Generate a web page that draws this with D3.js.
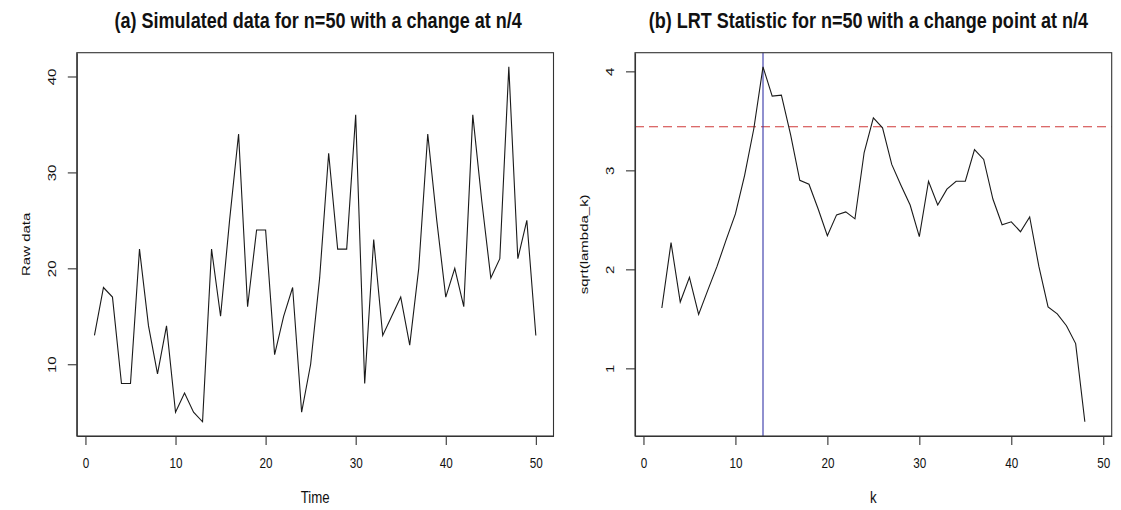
<!DOCTYPE html>
<html>
<head>
<meta charset="utf-8">
<script src="https://cdn.jsdelivr.net/npm/d3@7"></script>
<style>
  body { margin: 0; background: #fff; }
  svg { display: block; font-family: "Liberation Sans", Arial, sans-serif; }
</style>
</head>
<body>
<svg id="chart" width="1121" height="510"></svg>
<script>
'use strict';

// values
const rawData = [13, 18, 17, 8, 8, 22, 14, 9, 14, 5, 7, 5, 4, 22, 15, 25, 34, 16, 24, 24,
                 11, 15, 18, 5, 10, 19, 32, 22, 22, 36, 8, 23, 13, 15, 17, 12, 20, 34, 25, 17,
                 20, 16, 36, 27, 19, 21, 41, 21, 25, 13];
const kStart = 2;
const lrtStat = [1.61, 2.27, 1.67, 1.92, 1.545, 1.79, 2.03, 2.30, 2.56, 2.95, 3.42, 4.045,
                 3.75, 3.76, 3.36, 2.90, 2.86, 2.61, 2.34, 2.55, 2.58, 2.51, 3.18, 3.53, 3.43,
                 3.06, 2.85, 2.65, 2.33, 2.89, 2.65, 2.81, 2.89, 2.89, 3.21, 3.11, 2.71, 2.45,
                 2.48, 2.38, 2.53, 2.03, 1.62, 1.55, 1.43, 1.25, 0.46];
const kLimits = [1, 49];
const threshold = 3.44;
const changePoint = 13;

const xTicks = [0, 10, 20, 30, 40, 50];
const rawTicks = [10, 20, 30, 40];
const lrtTicks = [1, 2, 3, 4];

const titles = ['(a) Simulated data for n=50 with a change at n/4',
                '(b) LRT Statistic for n=50 with a change point at n/4'];
const xLabels = ['Time', 'k'];
const yLabels = ['Raw data', 'sqrt(lambda_k)'];

const squash = 0.78;      // the picture is narrower than its fonts
const titleSquash = 0.82;
const axisColour = '#333';

// R style range: data extent plus 4% each side
function rPad(ext) {
    const d = (ext[1] - ext[0]) * 0.04;
    return [ext[0] - d, ext[1] + d];
}

const svg = d3.select('#chart');

function panel(opts) {
    const { left, right, top, bottom } = opts.box;
    const x = d3.scaleLinear().domain(rPad(opts.xExtent)).range([left, right]);
    const y = d3.scaleLinear().domain(rPad(d3.extent(opts.values))).range([bottom, top]);
    const g = svg.append('g');

    // extras behind the line
    if (opts.hline != null) {
        g.append('line')
            .attr('x1', left).attr('x2', right)
            .attr('y1', y(opts.hline)).attr('y2', y(opts.hline))
            .attr('stroke', '#d03a3a')
            .attr('stroke-width', 1.1)
            .attr('stroke-dasharray', '9,5');
    }
    if (opts.vline != null) {
        g.append('line')
            .attr('x1', x(opts.vline)).attr('x2', x(opts.vline))
            .attr('y1', top).attr('y2', bottom)
            .attr('stroke', '#3636a8')
            .attr('stroke-width', 1.1);
    }

    const line = d3.line()
        .x((d, i) => x(opts.xStart + i))
        .y(d => y(d));
    g.append('path')
        .datum(opts.values)
        .attr('d', line)
        .attr('fill', 'none')
        .attr('stroke', '#1a1a1a')
        .attr('stroke-width', 1.1)
        .attr('stroke-linejoin', 'miter');

    g.append('rect')
        .attr('x', left).attr('y', top)
        .attr('width', right - left).attr('height', bottom - top)
        .attr('fill', 'none')
        .attr('stroke', axisColour)
        .attr('stroke-width', 1.1);

    // axes
    const xAxis = g.append('g')
        .attr('transform', `translate(0,${bottom})`)
        .call(d3.axisBottom(x).tickValues(xTicks).tickFormat(d3.format('d'))
            .tickSize(9).tickSizeOuter(0));
    xAxis.selectAll('text')
        .attr('y', null).attr('dy', null)
        .attr('transform', `translate(0,${31.5}) scale(${squash},1)`);

    const yAxis = g.append('g')
        .attr('transform', `translate(${left},0)`)
        .call(d3.axisLeft(y).tickValues(opts.yTicks).tickFormat(d3.format('d'))
            .tickSize(9).tickSizeOuter(0));
    yAxis.selectAll('text')
        .attr('x', null).attr('dy', null)
        .attr('text-anchor', 'middle')
        .attr('transform', `translate(-21,0) rotate(-90) scale(1,${squash})`);

    [xAxis, yAxis].forEach(a => {
        a.select('.domain').attr('stroke', axisColour).attr('stroke-width', 1.1);
        a.selectAll('.tick line').attr('stroke', axisColour).attr('stroke-width', 1.1);
        a.selectAll('text').attr('font-size', 15).attr('fill', '#111')
            .attr('font-family', '"Liberation Sans", Arial, sans-serif');
    });

    const cx = (left + right) / 2;
    const cy = (top + bottom) / 2;
    svg.append('text')
        .attr('transform', `translate(${cx + opts.titleShift},28) scale(${titleSquash},1)`)
        .attr('text-anchor', 'middle')
        .attr('font-size', 22)
        .attr('font-weight', 'bold')
        .attr('fill', '#111')
        .text(opts.title);
    svg.append('text')
        .attr('transform', `translate(${cx},${bottom + 67}) scale(${squash},1)`)
        .attr('text-anchor', 'middle')
        .attr('font-size', 17)
        .attr('fill', '#111')
        .text(opts.xLabel);
    svg.append('text')
        .attr('transform', `translate(${left - 47},${cy}) rotate(-90) scale(1,${squash})`)
        .attr('text-anchor', 'middle')
        .attr('font-size', 15)
        .attr('fill', '#111')
        .text(opts.yLabel);
}

panel({
    box: { left: 76.8, right: 553.5, top: 52.7, bottom: 436 },
    values: rawData,
    xStart: 1,
    xExtent: [1, rawData.length],
    yTicks: rawTicks,
    title: titles[0],
    titleShift: 3,
    xLabel: xLabels[0],
    yLabel: yLabels[0]
});

panel({
    box: { left: 635, right: 1111.7, top: 52.7, bottom: 436 },
    values: lrtStat,
    xStart: kStart,
    xExtent: kLimits,
    yTicks: lrtTicks,
    hline: threshold,
    vline: changePoint,
    title: titles[1],
    titleShift: -5,
    xLabel: xLabels[1],
    yLabel: yLabels[1]
});
</script>
</body>
</html>
